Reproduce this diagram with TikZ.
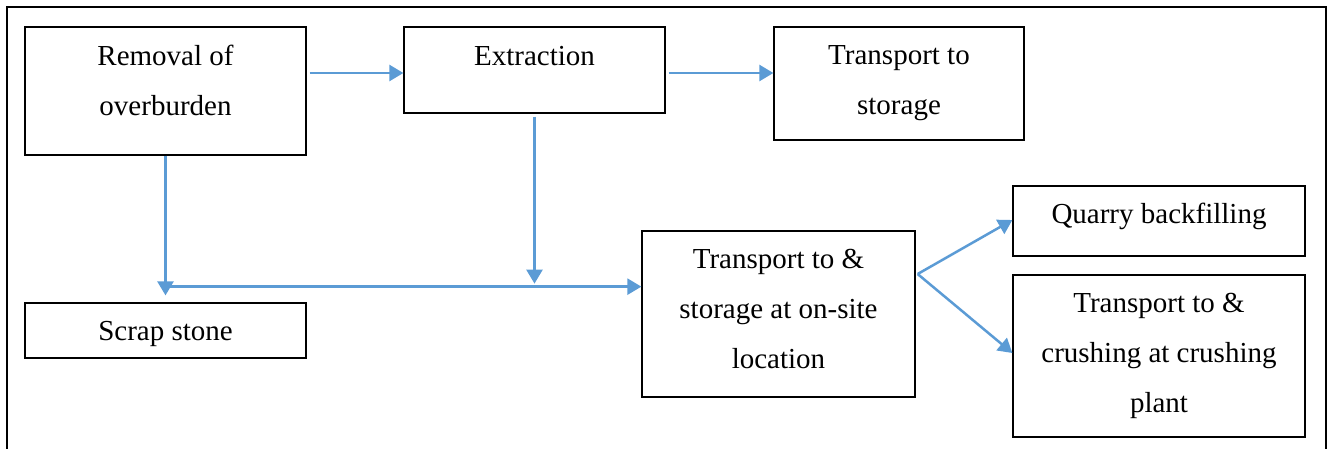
\documentclass[tikz,border=0pt]{standalone}
\usepackage{fontspec}
\setmainfont{Liberation Serif}
\usetikzlibrary{arrows.meta,calc}
\definecolor{wblue}{HTML}{5B9BD5}
\begin{document}
\begin{tikzpicture}[x=1pt,y=-1pt]
\tikzset{
 box/.style={draw=black, line width=1.3pt, inner sep=0pt},
 lbl/.style={inner sep=0pt, anchor=base, align=center, font=\fontsize{29}{50}\selectfont},
 conn/.style={draw=wblue, line width=2.5pt, -{Triangle[length=14pt,width=16pt]}},
 frame/.style={draw=black, line width=2pt},
}
\useasboundingbox (0,0) rectangle (1330,448);
\draw[frame] (7,470) -- (7,7) -- (1326,7) -- (1326,470);

\node[box, minimum width=281pt, minimum height=128pt] (rem) at (165.5,91) {};
\node[lbl] (remt) at (165.5,115) {Removal of\\overburden};
\node[box, minimum width=261pt, minimum height=86pt] (ext) at (534.5,70) {};
\node[lbl] (extt) at (534.5,65) {Extraction};
\node[box, minimum width=250pt, minimum height=113pt] (tsto) at (899,83.5) {};
\node[lbl] (tstot) at (899,114) {Transport to\\storage};
\node[box, minimum width=281pt, minimum height=55pt] (scrap) at (165.5,330.5) {};
\node[lbl] (scrapt) at (165.5,340) {Scrap stone};
\node[box, minimum width=273pt, minimum height=166pt] (onsite) at (778.5,314) {};
\node[lbl] (onsitet) at (778.5,368) {Transport to \&\\storage at on-site\\location};
\node[box, minimum width=292pt, minimum height=70pt] (quarry) at (1159,221) {};
\node[lbl] (quarryt) at (1159,223) {Quarry backfilling};
\node[box, minimum width=292pt, minimum height=162pt] (crush) at (1159,356) {};
\node[lbl] (crusht) at (1159,412) {Transport to \&\\crushing at crushing\\plant};

\draw[conn] ($(rem.east)+(3,-18)$) -- ($(ext.west)+(0,3)$);
\draw[conn] ($(ext.east)+(3,3)$) -- ($(tsto.west)+(0,-10.5)$);
\draw[conn] (rem.south) -- ($(scrap.north)+(0,-7)$);
\coordinate (j1) at ($(rem.south)+(4,131)$);
\draw[conn] (j1) -- (onsite.west |- j1);
\draw[conn] ($(ext.south)+(0,3)$) -- ($(ext.south |- j1)+(0,-3)$);
\coordinate (fork) at ($(onsite.east)+(2,-40)$);
\draw[conn] (fork) -- ($(quarry.west)+(0,-1)$);
\draw[conn] (fork) -- ($(crush.west)+(0,-3)$);
\end{tikzpicture}
\end{document}
